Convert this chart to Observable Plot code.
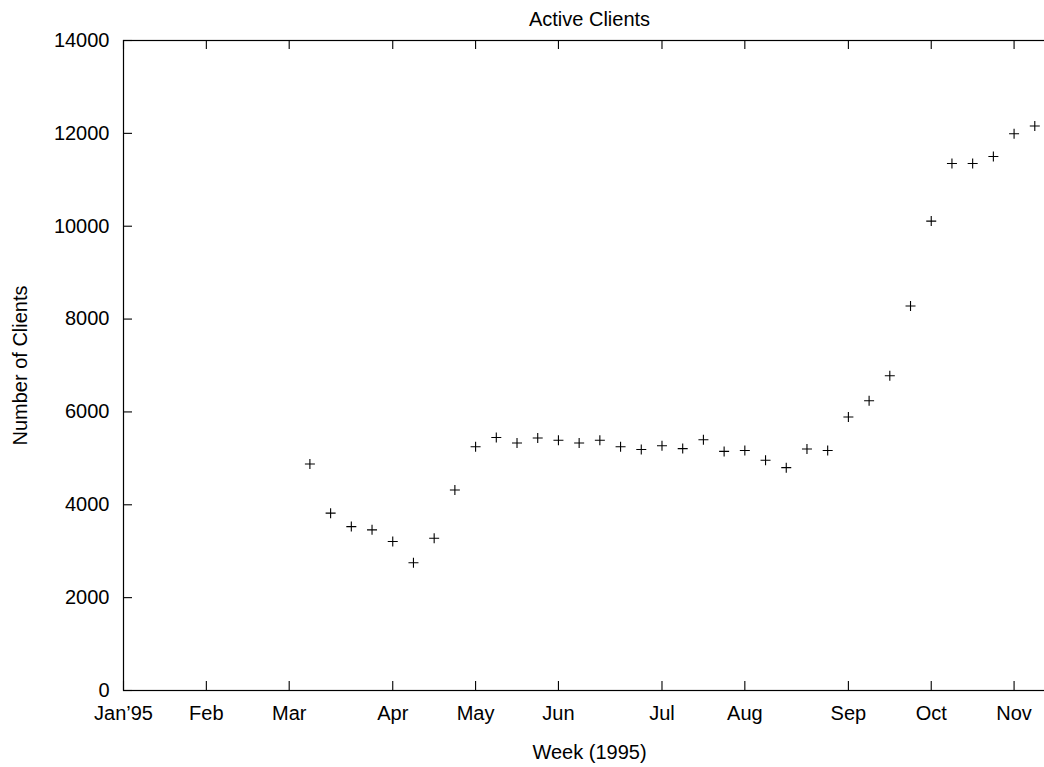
<!DOCTYPE html>
<html>
<head>
<meta charset="utf-8">
<script src="https://cdn.jsdelivr.net/npm/d3@7"></script>
<script src="https://cdn.jsdelivr.net/npm/@observablehq/plot@0.6"></script>
<style>
  html, body { margin: 0; padding: 0; background: #fff; overflow: hidden; }
  svg { display: block; max-width: none !important; }
</style>
</head>
<body>
<div id="chart"></div>
<script>
// Week number within 1995 (week 0 = Jan 1)
const weeks = [9,10,11,12,13,14,15,16,17,18,19,20,21,22,23,24,25,26,27,28,29,30,31,32,33,34,35,36,37,38,39,40,41,42,43,44];
const clients = [4880,3820,3530,3460,3210,2750,3280,4320,5250,5450,5330,5440,5390,5330,5390,5250,5190,5270,5210,5400,5150,5170,4960,4800,5200,5170,5890,6240,6780,8280,10110,11350,11350,11500,11990,12160];

const monthWeeks = [0,4,8,13,17,21,26,30,35,39,43];
const monthLabels = ["Jan\u201995","Feb","Mar","Apr","May","Jun","Jul","Aug","Sep","Oct","Nov"];
const yTicks = [0,2000,4000,6000,8000,10000,12000,14000];

const titleText = "Active Clients";
const xLabel = "Week (1995)";
const yLabel = "Number of Clients";

const data = weeks.map((w, i) => ({week: w, clients: clients[i]}));
const monthMap = new Map(monthWeeks.map((w, i) => [w, monthLabels[i]]));

const cross = {
  draw(ctx, size) {
    const r = Math.sqrt(size / Math.PI);
    ctx.moveTo(-r, 0); ctx.lineTo(r, 0);
    ctx.moveTo(0, -r); ctx.lineTo(0, r);
  }
};

const plotW = 1055 - 123;
const plotH = 690 - 40;
const tk = 9;

const chart = Plot.plot({
  width: 1055,
  height: 767,
  marginLeft: 123,
  marginRight: 0,
  marginTop: 40,
  marginBottom: 77,
  style: "font-family: 'Liberation Sans', Arial, Helvetica, sans-serif; background: #fff; color: #000; max-width: none;",
  x: {domain: [0, 45]},
  y: {domain: [0, 14000]},
  marks: [
    Plot.frame({stroke: "#000", strokeWidth: 1.2}),
    // inward tick marks on all sides
    Plot.tickX(monthWeeks, {x: d => d, insetTop: plotH - tk, stroke: "#000", strokeWidth: 1.1}),
    Plot.tickX(monthWeeks, {x: d => d, insetBottom: plotH - tk, stroke: "#000", strokeWidth: 1.1}),
    Plot.tickY(yTicks, {y: d => d, insetRight: plotW - tk, stroke: "#000", strokeWidth: 1.1}),
    Plot.tickY(yTicks, {y: d => d, insetLeft: plotW - tk, stroke: "#000", strokeWidth: 1.1}),
    Plot.axisX(monthWeeks, {tickSize: 0, tickPadding: 15, tickFormat: d => monthMap.get(d), fontSize: 20, label: null, fill: "#000"}),
    Plot.axisY(yTicks, {tickSize: 0, tickPadding: 14, tickFormat: d => String(d), fontSize: 20, label: null, fill: "#000"}),
    Plot.dot(data, {x: "week", y: "clients", symbol: cross, r: 5, fill: "none", stroke: "#000", strokeWidth: 1.1}),
    Plot.text([titleText], {frameAnchor: "top", dy: -21, lineAnchor: "middle", textAnchor: "middle", fontSize: 20, fill: "#000"}),
    Plot.text([xLabel], {frameAnchor: "bottom", dy: 62, lineAnchor: "middle", textAnchor: "middle", fontSize: 20, fill: "#000"}),
    Plot.text([yLabel], {frameAnchor: "left", dx: -103, rotate: -90, lineAnchor: "middle", textAnchor: "middle", fontSize: 20, fill: "#000"})
  ]
});

document.getElementById("chart").appendChild(chart);
</script>
</body>
</html>
